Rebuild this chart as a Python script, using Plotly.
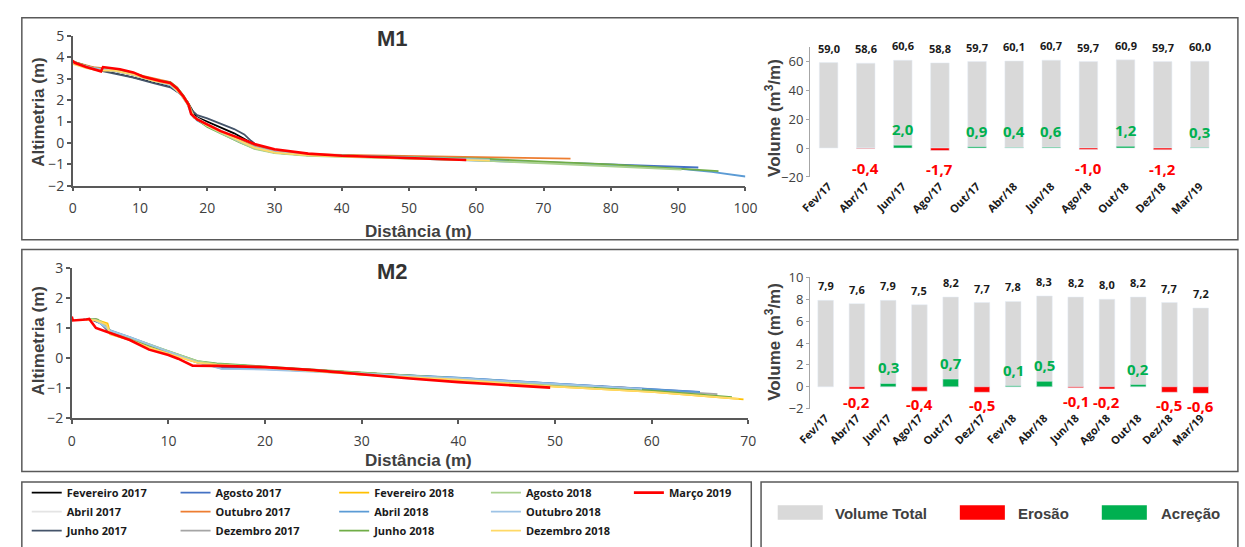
import plotly.graph_objects as go

W, H = 1245, 547

# ---------------- DATA ----------------
survey_names = ["Fevereiro 2017", "Abril 2017", "Junho 2017", "Agosto 2017", "Outubro 2017",
                "Dezembro 2017", "Fevereiro 2018", "Abril 2018", "Junho 2018", "Agosto 2018",
                "Outubro 2018", "Dezembro 2018", "Março 2019"]
survey_colors = ["#000000", "#e4e4e4", "#44546a", "#4472c4", "#ed7d31", "#a5a5a5", "#ffc000",
                 "#5b9bd5", "#70ad47", "#a9d18e", "#9dc3e6", "#ffd966", "#ff0000"]

# M1 bars
m1_dates = ["Fev/17", "Abr/17", "Jun/17", "Ago/17", "Out/17", "Abr/18", "Jun/18", "Ago/18",
            "Out/18", "Dez/18", "Mar/19"]
m1_total = [59.0, 58.6, 60.6, 58.8, 59.7, 60.1, 60.7, 59.7, 60.9, 59.7, 60.0]
m1_change = [None, -0.4, 2.0, -1.7, 0.9, 0.4, 0.6, -1.0, 1.2, -1.2, 0.3]

# M2 bars
m2_dates = ["Fev/17", "Abr/17", "Jun/17", "Ago/17", "Out/17", "Dez/17", "Fev/18", "Abr/18",
            "Jun/18", "Ago/18", "Out/18", "Dez/18", "Mar/19"]
m2_total = [7.9, 7.6, 7.9, 7.5, 8.2, 7.7, 7.8, 8.3, 8.2, 8.0, 8.2, 7.7, 7.2]
m2_change = [None, -0.2, 0.3, -0.4, 0.7, -0.5, 0.1, 0.5, -0.1, -0.2, 0.2, -0.5, -0.6]

# M1 profiles (distance m, altimetry m)
m1_fev17 = [(0, 3.8), (2, 3.6), (4, 3.45), (6, 3.3), (9, 3.1), (12, 2.85), (14.5, 2.65), (16, 2.3),
            (17, 1.95), (18, 1.4), (18.5, 1.2), (20, 1.0), (22, 0.75), (24, 0.45), (26, 0.1),
            (27, -0.1), (30, -0.4), (35, -0.55), (40, -0.62), (50, -0.7), (60, -0.78)]
m1_abr17 = [(0, 3.75), (3, 3.5), (6, 3.35), (9, 3.15), (12, 2.9), (14.5, 2.7), (16, 2.35), (17, 1.9),
            (18, 1.25), (20, 0.9), (22, 0.6), (25, 0.15), (27, -0.15), (30, -0.4), (35, -0.55),
            (40, -0.62), (50, -0.72), (60, -0.85), (75, -0.98)]
m1_jun17 = [(0, 3.75), (3, 3.45), (6, 3.25), (9, 3.05), (12, 2.8), (14.5, 2.6), (16, 2.3), (17, 1.95),
            (17.8, 1.5), (18.5, 1.3), (20, 1.15), (22, 0.9), (24, 0.65), (25.5, 0.4), (26.5, 0.1),
            (27.5, -0.15), (30, -0.45), (35, -0.58), (40, -0.62), (50, -0.68), (60, -0.75)]
m1_ago17 = [(0, 3.8), (3, 3.5), (6, 3.4), (9, 3.2), (12, 2.95), (14.5, 2.75), (16, 2.3), (17, 1.9),
            (17.8, 1.3), (18.5, 1.1), (20, 0.8), (22, 0.5), (25, 0.1), (27, -0.15), (30, -0.42),
            (35, -0.55), (40, -0.6), (50, -0.68), (60, -0.78), (70, -0.9), (80, -1.0), (88, -1.1),
            (93, -1.15)]
m1_out17 = [(0, 3.8), (3, 3.55), (6, 3.45), (9, 3.25), (11, 3.1), (13, 2.95), (14.5, 2.85),
            (15.5, 2.6), (16.5, 2.2), (17.3, 1.8), (18, 1.2), (20, 0.8), (22, 0.5), (25, 0.1),
            (27, -0.15), (30, -0.4), (35, -0.52), (40, -0.56), (50, -0.6), (60, -0.64), (70, -0.7),
            (74, -0.73)]
m1_abr18 = [(0, 3.75), (3, 3.5), (6, 3.38), (9, 3.2), (12, 2.9), (14.5, 2.7), (16, 2.3), (17, 1.85),
            (17.7, 1.3), (18.5, 1.05), (20, 0.8), (22, 0.5), (25, 0.05), (27, -0.2), (30, -0.45),
            (35, -0.58), (40, -0.63), (50, -0.7), (60, -0.8), (70, -0.92), (80, -1.05), (90, -1.2),
            (95, -1.35), (100, -1.57)]
m1_jun18 = [(0, 3.8), (3, 3.5), (6, 3.4), (9, 3.28), (12, 2.95), (14.5, 2.85), (15.5, 2.6),
            (16.5, 2.2), (17.3, 1.75), (18, 1.2), (20, 0.75), (22, 0.45), (25, 0.0), (27, -0.25),
            (30, -0.45), (35, -0.55), (40, -0.58), (50, -0.65), (62, -0.75), (70, -0.88),
            (80, -1.0), (90, -1.18), (96, -1.32)]
m1_ago18 = [(0, 3.78), (3, 3.5), (6, 3.4), (9, 3.2), (12, 2.9), (14.5, 2.75), (16, 2.35), (17, 1.9),
            (18, 1.25), (20, 0.8), (22, 0.45), (25, 0.0), (27, -0.28), (30, -0.48), (35, -0.6),
            (40, -0.65), (50, -0.72), (60, -0.82), (70, -0.95), (80, -1.08), (90.5, -1.25)]
m1_out18 = [(0, 3.75), (3, 3.5), (6, 3.38), (9, 3.2), (12, 2.9), (14.5, 2.72), (16, 2.3), (17, 1.85),
            (18, 1.2), (20, 0.8), (22, 0.5), (25, 0.05), (27, -0.2), (30, -0.42), (35, -0.55),
            (40, -0.6), (50, -0.68), (62, -0.78)]
m1_dez18 = [(0, 3.7), (2, 3.5), (4, 3.38), (6, 3.4), (9, 3.2), (12, 2.9), (14.5, 2.75), (16, 2.3),
            (17, 1.85), (18, 1.2), (20, 0.8), (22, 0.5), (25, 0.05), (27, -0.22), (30, -0.45),
            (35, -0.58), (40, -0.64), (50, -0.72), (59, -0.8), (62, -0.83)]
m1_mar19 = [(0, 3.85), (0.3, 3.75), (2, 3.55), (4.2, 3.35), (4.5, 3.55), (7, 3.45), (9, 3.3),
            (10.5, 3.1), (13, 2.9), (14.5, 2.8), (15.5, 2.55), (16.5, 2.15), (17.2, 1.8),
            (17.6, 1.35), (18.5, 1.1), (20, 0.85), (22, 0.55), (25, 0.2), (27, -0.05), (30, -0.3),
            (35, -0.5), (40, -0.6), (50, -0.7), (58.5, -0.8)]

# M2 profiles
m2_fev17 = [(2, 1.3), (3, 1.2), (4, 0.85), (6, 0.62), (8, 0.38), (10, 0.18), (12, -0.02), (13, -0.12),
            (15, -0.2), (20, -0.3), (30, -0.5), (40, -0.68), (50, -0.88), (55, -0.95)]
m2_abr17 = [(2, 1.3), (3.5, 1.15), (4, 0.85), (6, 0.65), (8, 0.4), (10, 0.2), (12, 0.0), (13, -0.12),
            (15, -0.22), (20, -0.3), (30, -0.5), (40, -0.68), (50, -0.88), (60, -1.02)]
m2_jun17 = [(2, 1.28), (3, 1.15), (4, 0.82), (6, 0.62), (8, 0.38), (10, 0.18), (12, -0.03),
            (13, -0.14), (15, -0.22), (20, -0.32), (30, -0.52), (40, -0.7), (50, -0.9), (56, -0.98)]
m2_ago17 = [(2.2, 1.3), (3, 1.2), (4, 0.9), (6, 0.68), (8, 0.42), (10, 0.2), (12, -0.02), (13, -0.14),
            (15.5, -0.3), (20, -0.36), (30, -0.5), (40, -0.66), (50, -0.85), (60, -1.02), (65, -1.12)]
m2_out17 = [(2, 1.3), (3, 1.2), (4, 0.85), (6, 0.64), (8, 0.4), (10, 0.2), (12, -0.02), (13, -0.12),
            (15, -0.2), (20, -0.3), (30, -0.5), (40, -0.68), (50, -0.88), (58, -1.0)]
m2_dez17 = [(1.2, 1.3), (2.5, 1.3), (3.5, 1.1), (4, 0.8), (6, 0.62), (8, 0.38), (10, 0.18),
            (12, -0.02), (13, -0.12), (15, -0.22), (20, -0.32), (30, -0.52), (40, -0.7), (50, -0.9),
            (60, -1.06), (66.8, -1.2)]
m2_fev18 = [(1.5, 1.28), (2.5, 1.28), (3.7, 1.15), (4, 0.8), (6, 0.6), (8, 0.35), (10, 0.15),
            (12, -0.05), (13, -0.15), (15, -0.22), (20, -0.32), (30, -0.55), (40, -0.72),
            (50, -0.95), (60, -1.12), (69.5, -1.37)]
m2_abr18 = [(2.3, 1.3), (3, 1.15), (4, 0.92), (6, 0.7), (8, 0.45), (10, 0.22), (12, 0.0), (13, -0.12),
            (15.5, -0.35), (20, -0.36), (30, -0.5), (40, -0.65), (50, -0.85), (60, -1.03), (65, -1.13)]
m2_jun18 = [(2, 1.3), (2.7, 1.28), (3.5, 1.05), (4, 0.88), (6, 0.68), (8, 0.42), (10, 0.22),
            (12, 0.0), (13, -0.1), (15, -0.18), (20, -0.28), (30, -0.48), (40, -0.66), (50, -0.86),
            (60, -1.08), (68.3, -1.3)]
m2_ago18 = [(2, 1.3), (3, 1.22), (4, 0.9), (6, 0.68), (8, 0.44), (10, 0.22), (12, 0.0), (13, -0.1),
            (15, -0.2), (20, -0.3), (30, -0.5), (40, -0.68), (50, -0.88), (54, -0.95)]
m2_out18 = [(2.3, 1.28), (3.2, 1.1), (4, 0.9), (6, 0.7), (8, 0.45), (10, 0.22), (12, 0.0),
            (13, -0.14), (15.5, -0.36), (20, -0.38), (30, -0.52), (40, -0.67), (50, -0.86), (59, -1.02)]
m2_dez18 = [(1.5, 1.28), (2.5, 1.25), (3.6, 1.12), (4, 0.78), (6, 0.6), (8, 0.35), (10, 0.15),
            (12, -0.05), (13, -0.15), (15, -0.22), (20, -0.32), (30, -0.55), (40, -0.72),
            (50, -0.95), (60, -1.12), (69, -1.35)]
m2_mar19 = [(0, 1.38), (0.05, 1.25), (0.1, 1.25), (1.5, 1.28), (1.8, 1.3), (2.5, 1.0), (4, 0.82),
            (6, 0.6), (8, 0.28), (10, 0.1), (11, -0.02), (12.5, -0.25), (15, -0.26), (20, -0.3),
            (25, -0.4), (30, -0.55), (35, -0.68), (40, -0.8), (45, -0.9), (49.5, -0.98)]

m1_profiles = {"Fevereiro 2017": m1_fev17, "Abril 2017": m1_abr17, "Junho 2017": m1_jun17,
               "Agosto 2017": m1_ago17, "Outubro 2017": m1_out17, "Abril 2018": m1_abr18,
               "Junho 2018": m1_jun18, "Agosto 2018": m1_ago18, "Outubro 2018": m1_out18,
               "Dezembro 2018": m1_dez18, "Março 2019": m1_mar19}
m2_profiles = {"Fevereiro 2017": m2_fev17, "Abril 2017": m2_abr17, "Junho 2017": m2_jun17,
               "Agosto 2017": m2_ago17, "Outubro 2017": m2_out17, "Dezembro 2017": m2_dez17,
               "Fevereiro 2018": m2_fev18, "Abril 2018": m2_abr18, "Junho 2018": m2_jun18,
               "Agosto 2018": m2_ago18, "Outubro 2018": m2_out18, "Dezembro 2018": m2_dez18,
               "Março 2019": m2_mar19}

# ---------------- STYLE ----------------
GRAY_TXT = "#404040"
AXIS_COL = "#595959"
C_TOTAL, C_ERO, C_ACC = "#d9d9d9", "#ff0000", "#00b050"
TICKF = "Open Sans"
TITLEF = "Liberation Sans"


def pxx(p):
    return p / W


def pxy(p):
    return 1 - p / H


def fmt(v):
    return f"{v:.1f}".replace(".", ",")


fig = go.Figure()

# ---------- profile lines ----------
legend_ids = ["legend", "legend2", "legend3", "legend4", "legend5"]
for panel, profs, xa, ya in [(1, m1_profiles, "x", "y"), (2, m2_profiles, "x3", "y3")]:
    for i, name in enumerate(survey_names):
        if name not in profs:
            continue
        pts = profs[name]
        red = name == "Março 2019"
        fig.add_trace(go.Scatter(
            x=[p[0] for p in pts], y=[p[1] for p in pts], mode="lines", name=name,
            line=dict(color=survey_colors[i], width=2.6 if red else 1.8),
            xaxis=xa, yaxis=ya, legendgroup=name, showlegend=(panel == 2),
            legend=legend_ids[i // 3], hoverinfo="skip"))

# ---------- bars ----------
for dates, total, change, xa, ya in [(m1_dates, m1_total, m1_change, "x2", "y2"),
                                     (m2_dates, m2_total, m2_change, "x4", "y4")]:
    ero = [c if (c is not None and c < 0) else None for c in change]
    acc = [c if (c is not None and c > 0) else None for c in change]
    fig.add_trace(go.Bar(x=dates, y=total, marker_color=C_TOTAL, width=0.5, xaxis=xa, yaxis=ya,
                         showlegend=False, hoverinfo="skip"))
    fig.add_trace(go.Bar(x=dates, y=ero, marker_color=C_ERO, width=0.5, xaxis=xa, yaxis=ya,
                         showlegend=False, hoverinfo="skip"))
    fig.add_trace(go.Bar(x=dates, y=acc, marker_color=C_ACC, width=0.5, xaxis=xa, yaxis=ya,
                         showlegend=False, hoverinfo="skip"))

annotations = []
for dates, total, change, xa, ya, red_shift in [(m1_dates, m1_total, m1_change, "x2", "y2", -19),
                                                (m2_dates, m2_total, m2_change, "x4", "y4", -13)]:
    for d, t, c in zip(dates, total, change):
        annotations.append(dict(x=d, y=t, xref=xa, yref=ya, text=fmt(t), showarrow=False,
                                yshift=14.5, yanchor="middle",
                                font=dict(family=TICKF, size=11, color="#1a1a1a", weight="bold")))
        if c is None:
            continue
        pos = c > 0
        annotations.append(dict(x=d, y=c, xref=xa, yref=ya, text=fmt(c), showarrow=False,
                                yshift=16 if pos else red_shift, yanchor="middle",
                                font=dict(family=TICKF, size=15, weight="bold",
                                          color=C_ACC if pos else C_ERO)))

# ---------- layout: axes ----------
dom = {
    "p1": ((60, 747), (27, 182)),
    "b1": ((813, 1230), (38, 173)),
    "p2": ((59, 750), (267, 423)),
    "b2": ((813, 1228), (277, 413)),
}


def xd(key):
    a, b = dom[key][0]
    return [pxx(a), pxx(b)]


def yd(key):
    a, b = dom[key][1]
    return [pxy(b), pxy(a)]


tickfont = dict(family=TICKF, size=14, color=GRAY_TXT)
bar_tickfont = dict(family=TICKF, size=13, color=GRAY_TXT)
cat_tickfont = dict(family=TICKF, size=11, color="#1a1a1a", weight="bold")

common_lin = dict(showgrid=False, zeroline=False, showline=True, linecolor=AXIS_COL, linewidth=1.5,
                  ticks="outside", ticklen=4, tickcolor=AXIS_COL, tickwidth=1.5)

layout = dict(
    width=W, height=H, margin=dict(l=0, r=0, t=0, b=0), autosize=False,
    paper_bgcolor="white", plot_bgcolor="rgba(0,0,0,0)", barmode="overlay",
    xaxis=dict(domain=xd("p1"), anchor="y", range=[0, 100], dtick=10, tickfont=tickfont,
               ticklabelstandoff=5, **common_lin),
    yaxis=dict(domain=yd("p1"), anchor="x", range=[-2, 5], dtick=1, tickfont=tickfont, **common_lin),
    xaxis3=dict(domain=xd("p2"), anchor="y3", range=[0, 70], dtick=10, tickfont=tickfont,
                ticklabelstandoff=5, **common_lin),
    yaxis3=dict(domain=yd("p2"), anchor="x3", range=[-2, 3], dtick=1, tickfont=tickfont, **common_lin),
    xaxis2=dict(domain=xd("b1"), anchor="y2", type="category", range=[-0.5, len(m1_dates) - 0.5],
                showline=False, showgrid=False, zeroline=False, ticks="", tickangle=-45,
                tickfont=cat_tickfont),
    yaxis2=dict(domain=yd("b1"), anchor="x2", range=[-20, 70], tickvals=[-20, 0, 20, 40, 60],
                showgrid=False, zeroline=False, showline=True, linecolor="#a6a6a6", linewidth=1,
                ticks="outside", ticklen=3, tickcolor="#a6a6a6", tickfont=bar_tickfont),
    xaxis4=dict(domain=xd("b2"), anchor="y4", type="category", range=[-0.5, len(m2_dates) - 0.5],
                showline=False, showgrid=False, zeroline=False, ticks="", tickangle=-45,
                tickfont=cat_tickfont),
    yaxis4=dict(domain=yd("b2"), anchor="x4", range=[-2, 10], dtick=2,
                showgrid=False, zeroline=False, showline=True, linecolor="#a6a6a6", linewidth=1,
                ticks="outside", ticklen=3, tickcolor="#a6a6a6", tickfont=bar_tickfont),
)


def zero_pos(key, rng):
    d = yd(key)
    return d[0] + (0 - rng[0]) / (rng[1] - rng[0]) * (d[1] - d[0])


for base, key, rng, n, ids in [("x2", "b1", [-20, 70], len(m1_dates), (5, 6)),
                               ("x4", "b2", [-2, 10], len(m2_dates), (7, 8))]:
    for ax_id, tk in zip(ids, ("outside", "inside")):
        layout[f"xaxis{ax_id}"] = dict(
            overlaying=base, anchor="free", position=zero_pos(key, rng), domain=xd(key),
            range=[-0.5, n - 0.5], tick0=0.5, dtick=1, ticks=tk, ticklen=4, tickwidth=1.3,
            tickcolor="#262626", showline=True, linecolor="#262626", linewidth=1.4,
            showticklabels=False, showgrid=False, zeroline=False)

# ---------- legends (5 columns) ----------
leg_x = [13, 165, 327, 482, 628]
for k, lid in enumerate(legend_ids):
    layout[lid] = dict(x=pxx(leg_x[k]), y=pxy(485), xanchor="left", yanchor="top",
                       orientation="v", bgcolor="rgba(0,0,0,0)", borderwidth=0,
                       tracegroupgap=0, itemwidth=30,
                       font=dict(family=TICKF, size=11, color="#1a1a1a", weight="bold"))

# ---------- frames ----------
shapes = []
for x0, y0, x1, y1 in [(8, 8, 1250, 238), (8, 248, 1250, 478), (8, 489, 753, 560),
                       (763, 489, 1250, 560)]:
    shapes.append(dict(type="rect", xref="paper", yref="paper", x0=pxx(x0), x1=pxx(x1),
                       y0=pxy(y1), y1=pxy(y0), line=dict(color="#595959", width=1.5),
                       fillcolor="rgba(0,0,0,0)", layer="below"))

# bar legend keys
bar_leg = [("Volume Total", C_TOTAL, 780, 836), ("Erosão", C_ERO, 966, 1023),
           ("Acreção", C_ACC, 1111, 1169)]
for label, col, kx, tx in bar_leg:
    shapes.append(dict(type="rect", xref="paper", yref="paper", x0=pxx(kx), x1=pxx(kx + 46),
                       y0=pxy(528), y1=pxy(513), line=dict(width=0), fillcolor=col))
    annotations.append(dict(x=pxx(tx), y=pxy(522), xref="paper", yref="paper", text=label,
                            xanchor="left", yanchor="middle", showarrow=False,
                            font=dict(family=TITLEF, size=15, color=GRAY_TXT, weight="bold")))

# titles
title_font = dict(family=TITLEF, size=17, color=GRAY_TXT, weight="bold")
for txt, x, y, ang, fnt in [
        ("M1", 387, 30, 0, dict(family=TITLEF, size=22, color="#333333", weight="bold")),
        ("M2", 387, 271, 0, dict(family=TITLEF, size=22, color="#333333", weight="bold")),
        ("Altimetria (m)", 25, 105, -90, title_font),
        ("Altimetria (m)", 25, 342, -90, title_font),
        ("Distância (m)", 413, 229, 0, title_font),
        ("Distância (m)", 413, 467, 0, title_font),
        ("Volume (m<sup>3</sup>/m)", 775, 112, -90, title_font),
        ("Volume (m<sup>3</sup>/m)", 775, 344, -90, title_font)]:
    annotations.append(dict(x=pxx(x), y=pxy(y), xref="paper", yref="paper", text=txt,
                            textangle=ang, showarrow=False, xanchor="center", yanchor="middle",
                            font=fnt))

layout["shapes"] = shapes
layout["annotations"] = annotations
fig.update_layout(**layout)

fig.write_html("out.html", config={"displayModeBar": False},
               post_script="document.body.style.margin='0px';")
